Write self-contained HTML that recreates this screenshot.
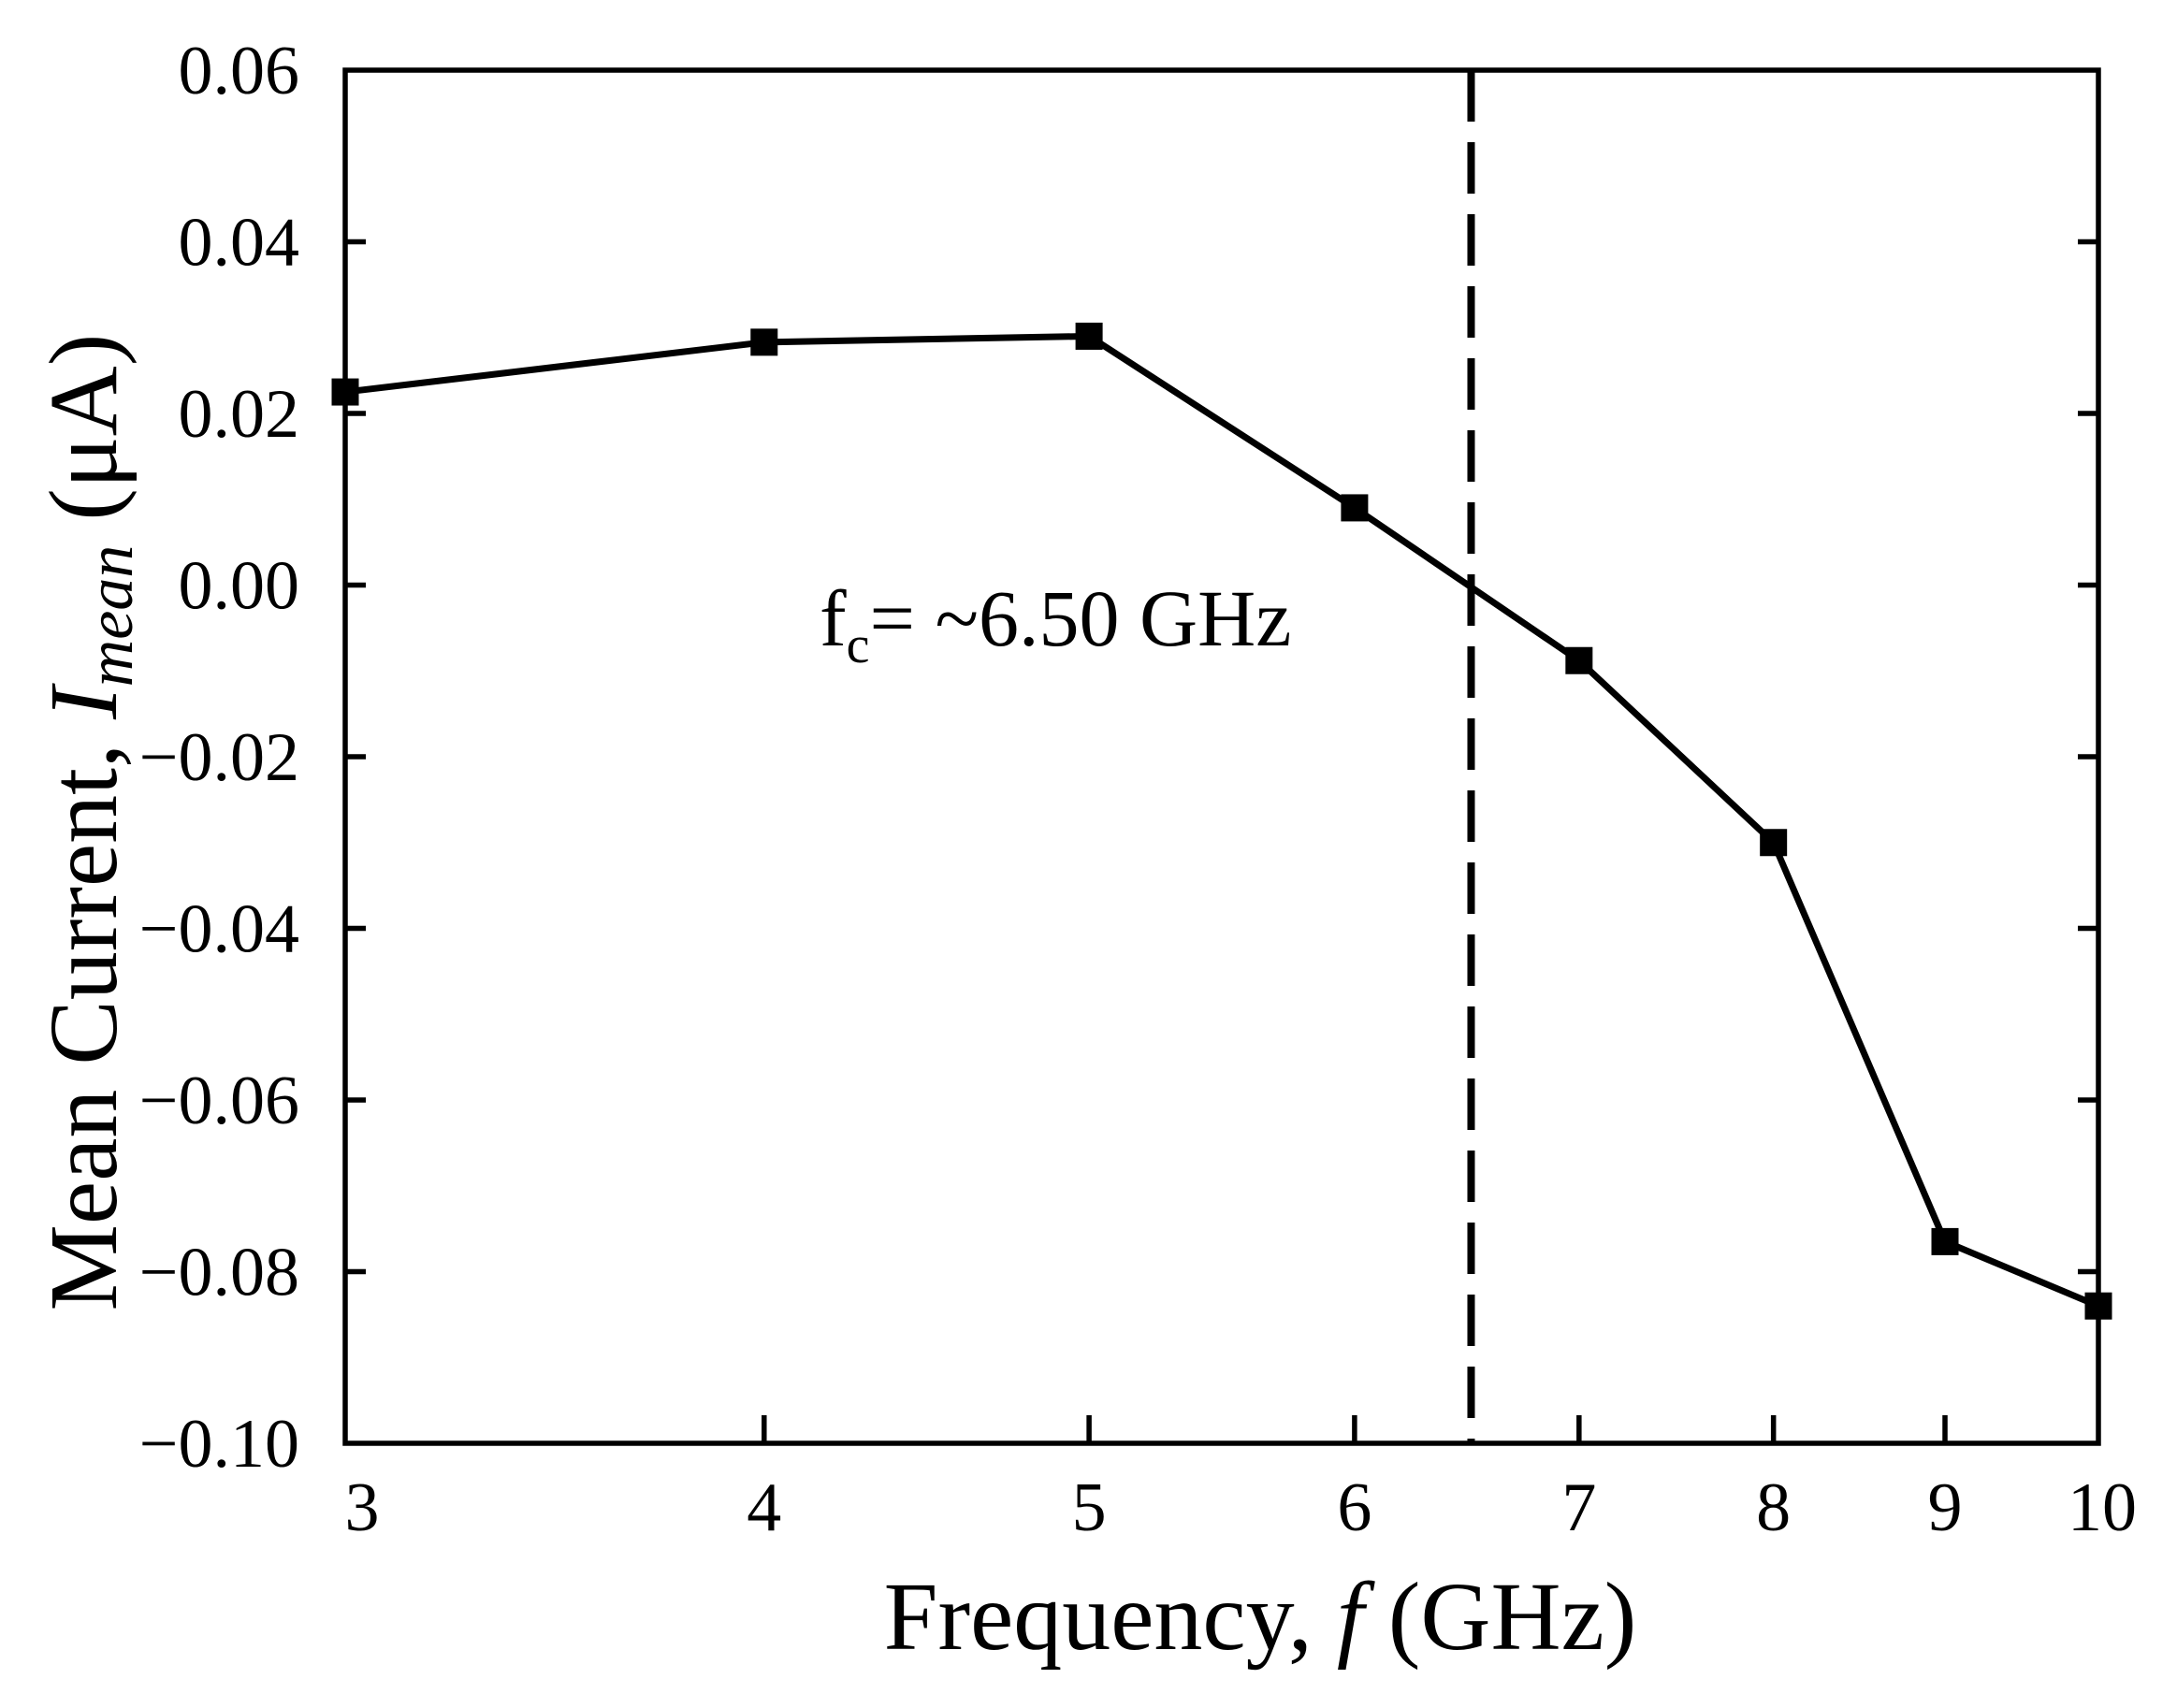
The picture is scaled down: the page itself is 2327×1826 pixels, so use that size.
<!DOCTYPE html>
<html><head><meta charset="utf-8"><style>
html,body{margin:0;padding:0;background:#fff}
svg{display:block}
text{font-family:"Liberation Serif",serif;fill:#000}
</style></head><body>
<svg id="chart" width="2327" height="1826" viewBox="0 0 2327 1826" xmlns="http://www.w3.org/2000/svg">
<g id="plot"></g>
</svg>
<script>
const freqs = [3,4,5,6,7,8,9,10];
const currents = [0.0225,0.0283,0.0290,0.0090,-0.0088,-0.0300,-0.0765,-0.0840];
const yTicks = [0.06,0.04,0.02,0.00,-0.02,-0.04,-0.06,-0.08,-0.10];
const yTickLabels = ["0.06","0.04","0.02","0.00","\u22120.02","\u22120.04","\u22120.06","\u22120.08","\u22120.10"];
const xTicks = [3,4,5,6,7,8,9,10];
const xTickLabels = ["3","4","5","6","7","8","9","10"];
const cutoff = [6.5];

const L=369,R=2243,T=75,B=1543;
const xMin=3,xMax=10,yMin=-0.10,yMax=0.06;
function xs(v){return L+(Math.log(v)-Math.log(xMin))/(Math.log(xMax)-Math.log(xMin))*(R-L);}
function ys(v){return B-(v-yMin)/(yMax-yMin)*(B-T);}
const NS="http://www.w3.org/2000/svg";
const g=document.getElementById('plot');
function mk(tag,attrs,parent){const e=document.createElementNS(NS,tag);for(const k in attrs)e.setAttribute(k,attrs[k]);(parent||g).appendChild(e);return e;}

yTicks.forEach((v,i)=>{
  const y=ys(v);
  if(i>0&&i<yTicks.length-1){
    const t1=mk('line',{x1:L,x2:L+22,y1:y,y2:y,stroke:'#000','stroke-width':5.5});
    
    
    const t2=mk('line',{x1:R-22,x2:R,y1:y,y2:y,stroke:'#000','stroke-width':5.5});
    
    
  }
  const tx=mk('text',{x:320,y:y+25,'font-size':74,'text-anchor':'end'});
  tx.textContent=yTickLabels[i];
  
  
});
xTicks.forEach((v,i)=>{
  const x=xs(v);
  if(i>0&&i<xTicks.length-1){
    const t=mk('line',{x1:x,x2:x,y1:B,y2:B-30,stroke:'#000','stroke-width':5.5});
    
    
  }
  let ax=x; if(i===0) ax=x+18; if(i===xTicks.length-1) ax=x+4;
  const tx=mk('text',{x:ax,y:1636,'font-size':74,'text-anchor':'middle'});
  tx.textContent=xTickLabels[i];
  
  
});
cutoff.forEach(c=>{
  const d=mk('line',{x1:xs(c),x2:xs(c),y1:T,y2:B,stroke:'#000','stroke-width':8,'stroke-dasharray':'55,22'});
  
  
});
const pts=freqs.map((f,i)=>xs(f)+','+ys(currents[i])).join(' ');
const pl=mk('polyline',{points:pts,fill:'none',stroke:'#000','stroke-width':7});


freqs.forEach((f,i)=>{
  const s=29;
  const r=mk('rect',{x:xs(f)-s/2,y:ys(currents[i])-s/2,width:s,height:s,fill:'#000'});
  
  
});
const fr=mk('rect',{x:L,y:T,width:R-L,height:B-T,fill:'none',stroke:'#000','stroke-width':5.5});


</script>
<svg style="position:absolute;left:0;top:0" width="2327" height="1826" xmlns="http://www.w3.org/2000/svg">
<text x="876" y="690" font-size="86" style="font-family:'Liberation Serif',serif">f<tspan font-size="56" dy="18">c</tspan><tspan dy="-18">= ~6.50 GHz</tspan></text>
<text x="1347" y="1763" font-size="104" text-anchor="middle" style="font-family:'Liberation Serif',serif">Frequency, <tspan font-style="italic">f</tspan> (GHz)</text>
<text transform="translate(124,879) rotate(-90)" font-size="104" text-anchor="middle" style="font-family:'Liberation Serif',serif">Mean Current, <tspan font-style="italic">I</tspan><tspan font-style="italic" font-size="70" dy="17">mean</tspan><tspan dy="-17"> (μA)</tspan></text>
</svg>
</body></html>
